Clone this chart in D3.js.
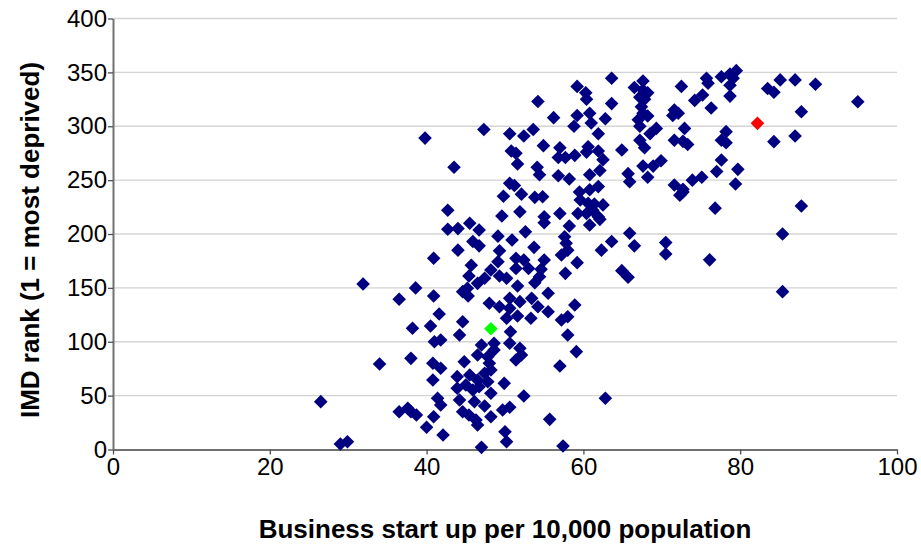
<!DOCTYPE html>
<html><head><meta charset="utf-8">
<script src="https://cdn.jsdelivr.net/npm/d3@7"></script>
<style>body{margin:0;background:#fff}svg{display:block}text{font-family:"Liberation Sans",Arial,sans-serif}</style>
</head><body><svg id="c" width="921" height="546"></svg>
<script>
// Business start up per 10,000 population (x) vs IMD rank (y)
const startUps = [39.8,59.2,60.3,54.2,56.2,59.2,58.8,47.3,50.6,52.4,53.6,54.9,50.8,51.4,51.6,57.0,56.8,57.7,58.9,43.5,54.1,54.4,56.8,58.2,50.6,51.2,59.5,
63.6,60.4,67.6,66.5,67.6,68.2,67.2,67.8,72.5,75.7,75.9,77.6,75.2,74.2,76.3,63.6,60.8,61.0,62.8,67.4,67.6,68.2,67.0,67.2,71.6,72.1,71.4,72.9,69.3,68.5,61.9,60.6,60.4,67.2,67.8,64.9,61.9,71.6,72.7,73.3,77.6,62.5,62.1,60.8,67.6,68.9,69.9,65.7,65.9,68.2,71.6,72.7,73.9,75.1,77.0,77.6,61.9,60.8,
79.5,78.7,79.1,78.7,78.7,85.1,87.0,89.6,83.5,84.3,95.0,87.8,78.2,78.2,84.3,87.0,79.7,79.4,
40.9,31.9,38.6,40.9,36.5,41.6,
49.8,52.1,53.8,54.8,59.6,42.7,49.6,51.9,55.0,57.0,55.0,59.3,58.2,42.7,44.0,45.5,46.7,49.1,50.9,52.6,45.9,46.7,44.0,57.6,57.8,53.7,49.3,51.4,52.4,51.4,53.0,55.0,57.2,58.0,59.2,49.1,45.7,48.2,45.4,47.4,46.5,49.3,50.2,54.6,54.4,53.8,57.7,51.6,45.2,44.6,45.3,55.5,48.0,49.3,50.6,51.9,53.4,54.2,55.5,58.9,50.6,50.2,51.6,53.3,57.2,58.0,44.6,
60.6,61.4,62.5,61.2,61.9,62.1,60.8,60.4,72.3,72.7,76.8,65.9,63.6,66.5,62.3,70.5,70.5,76.1,64.9,65.7,
87.8,85.4,85.4,
38.2,40.5,41.0,41.8,34.0,38.0,40.8,41.8,40.8,26.5,41.4,41.8,36.5,37.6,38.0,38.7,40.9,40.0,29.0,29.9,42.1,
44.2,50.7,58.0,59.1,47.0,48.6,50.6,51.9,46.5,47.8,48.6,51.4,52.1,44.8,48.0,48.2,47.4,57.0,43.9,45.5,46.5,47.8,49.9,43.9,45.0,45.9,46.7,48.2,52.4,44.2,46.1,47.4,44.6,45.4,46.3,46.5,48.2,49.7,50.6,55.7,50.0,50.2,47.0,57.4,
62.8];
const imdRanks = [289,337,331,323,308,310,300,297,293,291,297,282,277,275,265,280,271,271,273,262,262,255,254,251,247,245,239,
344.5,325,342,336,333.6,331,327,325,337,344.5,340,346,329,324,317,321,312,303,307,318,312,309.5,306,300,315,312,310,298,298,293,293,281,276,287,280,278,277,287,286,283,287,269,259,255,263,263,268,256,248.5,252.6,245.5,241.5,250,252.6,258,268.7,244,241,
351.6,348.5,344.5,338,328,343,343,339,335,331.5,322.8,313.5,295,284.7,285.7,291,260,246.4,
177.5,153.6,150,142.5,139.4,125.8,
235,237,234,234.6,231.5,222,216.7,220.7,216,219,210.5,219,207.4,204.4,205,210,203.7,198,194.4,202,193,189,185,197.5,191.4,187.6,184.5,177.4,175.9,168,168,175.9,180.5,185,173.4,174.3,171,166.6,161,158.9,154.2,161,158.9,167.2,160.4,154.8,163.5,151.7,149.6,146.5,142.5,145,135.7,132.5,140.3,137.2,140.3,132.5,127.9,134.1,131,121.8,123.9,121.8,120.2,123.2,118.6,
228.5,227.8,227,222,216,213.6,208.4,219,236,239,224,200.7,193,189,185,192,181.4,176,166,159.8,
226,200,146.5,
112.5,114.6,100,101.6,79.4,84.6,80,75.4,64.5,44.4,47.5,41.3,35.1,38.2,35.1,32,30.4,20.6,5.1,7.2,13.5,
106.3,109.3,106.3,90.8,97,98.6,98.6,94,87.7,86.1,92.3,83,87.7,81.5,80,73.8,70.7,77.5,67.6,69.1,64.5,62.9,61.4,56.8,59.9,55.2,58.3,52.2,49.7,45.9,44.4,40.4,35.1,32,27.4,22.7,30.4,36.7,39.2,28,16.5,7.2,2,3.2,
47.5];
// highlighted areas
const redX = [82.2], redY = [302.7];
const greenX = [48.2], greenY = [112];
const xTicks = [0,20,40,60,80,100];
const yTicks = [0,50,100,150,200,250,300,350,400];
const xTitle = "Business start up per 10,000 population";
const yTitle = "IMD rank (1 = most deprived)";

const svg = d3.select("#c");
const x = d3.scaleLinear().domain([0,100]).range([113,897]);
const y = d3.scaleLinear().domain([0,400]).range([449.5,18.5]);

// gridlines
svg.append("g").selectAll("line").data(yTicks.filter(d=>d>0)).join("line")
  .attr("x1",x(0)).attr("x2",x(100)).attr("y1",d=>y(d)).attr("y2",d=>y(d))
  .attr("stroke","#d4d4d4").attr("stroke-width",1.3);

const fs = 24;
const xAxis = svg.append("g").attr("transform",`translate(0,${y(0)})`)
  .call(d3.axisBottom(x).tickValues(xTicks).tickSize(5).tickSizeOuter(0).tickPadding(3));
const yAxis = svg.append("g").attr("transform",`translate(${x(0)},0)`)
  .call(d3.axisLeft(y).tickValues(yTicks).tickSize(5).tickSizeOuter(0).tickPadding(1));
[xAxis,yAxis].forEach(a=>{
  a.select(".domain").attr("stroke","#707070").attr("stroke-width",2);
  a.selectAll(".tick line").attr("stroke","#505050").attr("stroke-width",1.3);
  a.selectAll(".tick text").attr("font-size",fs).attr("fill","#000")
   .style("font-family","'Liberation Sans',Arial,sans-serif");
});

const diamond = "M0,-6.8L6.8,0L0,6.8L-6.8,0Z";
const pts = startUps.map((v,i)=>({x:v,y:imdRanks[i]}));
svg.append("g").selectAll("path").data(pts).join("path")
  .attr("d",diamond).attr("transform",d=>`translate(${x(d.x)},${y(d.y)})`)
  .attr("fill","#000080");
svg.append("g").selectAll("path").data(redX.map((v,i)=>({x:v,y:redY[i]}))).join("path")
  .attr("d",diamond).attr("transform",d=>`translate(${x(d.x)},${y(d.y)})`).attr("fill","#ff0000");
svg.append("g").selectAll("path").data(greenX.map((v,i)=>({x:v,y:greenY[i]}))).join("path")
  .attr("d",diamond).attr("transform",d=>`translate(${x(d.x)},${y(d.y)})`).attr("fill","#00ff00");

svg.append("text").attr("x",505).attr("y",538).attr("text-anchor","middle")
  .attr("font-size",26).attr("font-weight","bold").text(xTitle);
svg.append("text").attr("transform","translate(39,240) rotate(-90)").attr("text-anchor","middle")
  .attr("font-size",26).attr("font-weight","bold").text(yTitle);
</script></body></html>
